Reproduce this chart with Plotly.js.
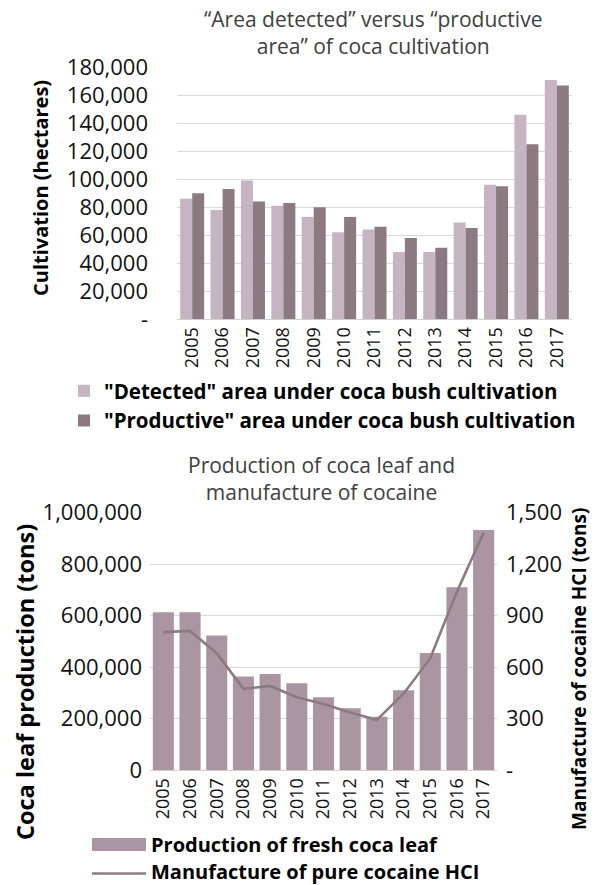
<!DOCTYPE html>
<html>
<head>
<meta charset="utf-8">
<script src="https://cdn.plot.ly/plotly-3.0.1.min.js"></script>
<style>
  html, body { margin: 0; padding: 0; background: #ffffff; }
  #chart { width: 603px; height: 885px; }
</style>
</head>
<body>
<div id="chart"></div>
<script>
// ---- Data ----
const years = ['2005', '2006', '2007', '2008', '2009', '2010', '2011', '2012', '2013', '2014', '2015', '2016', '2017'];
const detectedArea = [86000, 78000, 99000, 81000, 73000, 62000, 64000, 48000, 48000, 69000, 96000, 146000, 171000];
const productiveArea = [90000, 93000, 84000, 83000, 80000, 73000, 66000, 58000, 51000, 65000, 95000, 125000, 167000];
const cocaLeafProduction = [613000, 613000, 523000, 363000, 373000, 337000, 283000, 240000, 207000, 310000, 455000, 710000, 933000];
const cocaineManufacture = [804, 811, 681, 473, 490, 424, 385, 335, 292, 445, 652, 1040, 1385];

const areaTickVals = [0, 20000, 40000, 60000, 80000, 100000, 120000, 140000, 160000, 180000];
const areaTickText = ['-', '20,000', '40,000', '60,000', '80,000', '100,000', '120,000', '140,000', '160,000', '180,000'];
const leafTickVals = [0, 200000, 400000, 600000, 800000, 1000000];
const leafTickText = ['0', '200,000', '400,000', '600,000', '800,000', '1,000,000'];
const hclTickVals = [0, 300, 600, 900, 1200, 1500];
const hclTickText = ['-', '300', '600', '900', '1,200', '1,500'];

const topTitle = '\u201CArea detected\u201D versus \u201Cproductive<br>area\u201D of coca cultivation';
const bottomTitle = 'Production of coca leaf and<br>manufacture of cocaine';
const leafSeriesName = 'Production of fresh coca leaf';
const hclSeriesName = 'Manufacture of pure cocaine HCI';

// ---- Layout helpers (pixel -> paper) ----
const W = 603, H = 885;
const px = v => v / W;
const py = v => 1 - v / H;

const FONT = '"Open Sans", "Noto Sans", sans-serif';
const GRID = '#d9d9d9';
const LIGHT = '#c5b4c1', DARK = '#8c7a82', LEAF = '#ab95a2', LINE = '#8b7b80';

const traces = [
  {
    type: 'bar', name: '"Detected" area under coca bush cultivation',
    x: years, y: detectedArea, xaxis: 'x', yaxis: 'y',
    marker: { color: LIGHT }, legend: 'legend'
  },
  {
    type: 'bar', name: '"Productive" area under coca bush cultivation',
    x: years, y: productiveArea, xaxis: 'x', yaxis: 'y',
    marker: { color: DARK }, legend: 'legend'
  },
  {
    type: 'bar', name: leafSeriesName,
    x: years, y: cocaLeafProduction, xaxis: 'x2', yaxis: 'y2',
    marker: { color: LEAF }, showlegend: false
  },
  {
    type: 'scatter', mode: 'lines', name: hclSeriesName,
    x: years, y: cocaineManufacture, xaxis: 'x2', yaxis: 'y3',
    line: { color: LINE, width: 2.6 }, showlegend: false
  }
];

const xCommon = {
  type: 'category', tickangle: -90, showgrid: false, zeroline: false,
  showline: true, linecolor: '#d0d0d0', linewidth: 1, ticks: '',
  tickfont: { family: FONT, size: 18, color: '#111' }, fixedrange: true
};

const legendFont = { family: FONT, size: 20.5, color: '#000', weight: 'bold' };
const bottomLegendFont = { family: FONT, size: 20, color: '#000', weight: 'bold' };
const titleFont = { family: FONT, size: 21, color: '#404040' };

function textLine(text, xPx, yPx, font, xanchor) {
  return {
    text: text, xref: 'paper', yref: 'paper', x: px(xPx), y: py(yPx),
    xanchor: xanchor || 'center', yanchor: 'middle', showarrow: false,
    borderpad: 0, align: 'center', font: font
  };
}

const layout = {
  width: W, height: H, autosize: false,
  margin: { l: 0, r: 0, t: 0, b: 0 },
  paper_bgcolor: '#ffffff', plot_bgcolor: '#ffffff',
  font: { family: FONT, color: '#111' },
  barmode: 'group', bargap: 0.21, bargroupgap: 0,
  xaxis: Object.assign({}, xCommon, { domain: [px(177), px(572)], anchor: 'y' }),
  yaxis: {
    domain: [py(319), py(67.3)], anchor: 'x', range: [0, 180000],
    tickvals: areaTickVals, ticktext: areaTickText,
    showgrid: true, gridcolor: GRID, gridwidth: 1, zeroline: false, showline: false,
    ticks: '', ticklabelstandoff: 28,
    tickfont: { family: FONT, size: 22, color: '#111' }, fixedrange: true
  },
  xaxis2: Object.assign({}, xCommon, { domain: [px(150), px(497)], anchor: 'y2' }),
  yaxis2: {
    domain: [py(770), py(512.7)], anchor: 'x2', range: [0, 1000000],
    tickvals: leafTickVals, ticktext: leafTickText,
    showgrid: true, gridcolor: GRID, gridwidth: 1, zeroline: false, showline: false,
    ticks: '', ticklabelstandoff: 7,
    tickfont: { family: FONT, size: 22, color: '#111' }, fixedrange: true
  },
  yaxis3: {
    overlaying: 'y2', side: 'right', anchor: 'x2', range: [0, 1500],
    tickvals: hclTickVals, ticktext: hclTickText,
    showgrid: false, zeroline: false, showline: false,
    ticks: '', ticklabelstandoff: 8,
    tickfont: { family: FONT, size: 22, color: '#111' }, fixedrange: true
  },
  legend: {
    x: px(64), xanchor: 'left', y: py(371), yanchor: 'top',
    bgcolor: 'rgba(0,0,0,0)', borderwidth: 0, tracegroupgap: 0,
    font: legendFont
  },
  shapes: [
    // legend swatches for the lower chart
    { type: 'rect', xref: 'paper', yref: 'paper', layer: 'above',
      x0: px(92), x1: px(146), y0: py(851), y1: py(838),
      fillcolor: LEAF, line: { width: 0 } },
    { type: 'line', xref: 'paper', yref: 'paper', layer: 'above',
      x0: px(92), x1: px(146), y0: py(873.5), y1: py(873.5),
      line: { color: LINE, width: 2.6 } }
  ],
  annotations: [
    textLine(topTitle, 373, 32.5, titleFont),
    textLine(bottomTitle, 321, 478.5, titleFont),
    Object.assign(textLine('Cultivation (hectares)', 40, 188,
      { family: FONT, size: 20, color: '#000', weight: 'bold' }), { textangle: -90 }),
    Object.assign(textLine('Coca leaf production (tons)', 25, 682,
      { family: FONT, size: 23.5, color: '#000', weight: 'bold' }), { textangle: -90 }),
    Object.assign(textLine('Manufacture of cocaine HCI (tons)', 579, 669,
      { family: FONT, size: 19, color: '#000', weight: 'bold' }), { textangle: -90 }),
    // legend labels for the lower chart
    textLine(leafSeriesName, 150, 844, bottomLegendFont, 'left'),
    textLine(hclSeriesName, 150, 871.5, bottomLegendFont, 'left')
  ]
};

Plotly.newPlot('chart', traces, layout, { displayModeBar: false, staticPlot: true });
</script>
</body>
</html>
